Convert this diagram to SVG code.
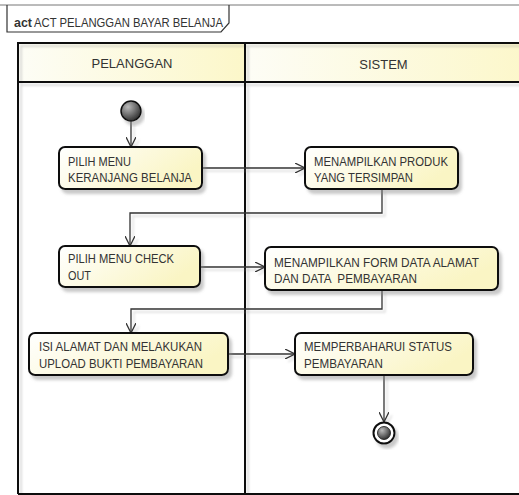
<svg xmlns="http://www.w3.org/2000/svg" width="519" height="495" viewBox="0 0 519 495">
  <defs>
    <style>
      text { font-family: "Liberation Sans", Arial, sans-serif; fill: #333; font-size: 13.5px; }
      .hdr { font-size: 13px; text-anchor: middle; }
      .lane { fill: none; stroke: #111; stroke-width: 2; }
      .act { stroke: #111; stroke-width: 2; }
      .flow { fill: none; stroke: #333; stroke-width: 1.3; }
    </style>
    <linearGradient id="nodeFill" x1="0" y1="0" x2="1" y2="0.4">
      <stop offset="0" stop-color="#ffffff"/>
      <stop offset="1" stop-color="#faf5c4"/>
    </linearGradient>
    <linearGradient id="hdrFill" x1="0" y1="0" x2="1" y2="0">
      <stop offset="0" stop-color="#fdfdf6"/>
      <stop offset="1" stop-color="#fcf7c9"/>
    </linearGradient>
    <radialGradient id="ballFill" cx="0.35" cy="0.3" r="0.8">
      <stop offset="0" stop-color="#bbbbbb"/>
      <stop offset="1" stop-color="#222222"/>
    </radialGradient>
    <filter id="shadow" x="-10%" y="-10%" width="130%" height="140%">
      <feDropShadow dx="3" dy="4" stdDeviation="1.5" flood-color="#888" flood-opacity="0.45"/>
    </filter>
    <filter id="lineShadow" x="-5%" y="-5%" width="110%" height="110%">
      <feDropShadow dx="3" dy="3" stdDeviation="0.8" flood-color="#999" flood-opacity="0.35"/>
    </filter>
    <marker id="open" viewBox="0 0 10 10" refX="10" refY="5" markerWidth="10" markerHeight="10" markerUnits="userSpaceOnUse" orient="auto">
      <path d="M0,0 L10,5 L0,10" fill="none" stroke="#333" stroke-width="1.3"/>
    </marker>
  </defs>

  <rect x="0" y="0" width="519" height="495" fill="#fff"/>

  <!-- diagram frame and name tab -->
  <g id="frame">
    <line x1="0" y1="5" x2="519" y2="5" stroke="#777" stroke-width="1"/>
    <path d="M7,5 V32 H221 L229,23 V5" fill="none" stroke="#333" stroke-width="1.2"/>
    <text x="14" y="26.5" font-size="13px" font-weight="bold" textLength="18" lengthAdjust="spacingAndGlyphs">act</text>
    <text x="34" y="26.5" font-size="13px" textLength="189" lengthAdjust="spacingAndGlyphs">ACT PELANGGAN BAYAR BELANJA</text>
  </g>

  <!-- swimlanes -->
  <g id="lanes">
    <rect x="18" y="43" width="227" height="39" fill="url(#hdrFill)"/>
    <rect x="245" y="43" width="290" height="39" fill="url(#hdrFill)"/>
    <g filter="url(#lineShadow)">
      <path class="lane" d="M18,494 V43 H540 M18,82 H540 M245,43 V494 M18,494 H540"/>
    </g>
    <text class="hdr" x="132" y="68">PELANGGAN</text>
    <text class="hdr" x="383.5" y="68.5">SISTEM</text>
  </g>

  <!-- connectors -->
  <g id="connectors" filter="url(#lineShadow)">
    <path class="flow" d="M131,121 V147" marker-end="url(#open)"/>
    <path class="flow" d="M202,168 H305" marker-end="url(#open)"/>
    <path class="flow" d="M382,189 V213 H130 V246" marker-end="url(#open)"/>
    <path class="flow" d="M200,267 H265" marker-end="url(#open)"/>
    <path class="flow" d="M382,290 V309 H131 V333" marker-end="url(#open)"/>
    <path class="flow" d="M228,354 H295" marker-end="url(#open)"/>
    <path class="flow" d="M384,375 V422" marker-end="url(#open)"/>
  </g>

  <!-- initial node -->
  <g id="start" filter="url(#shadow)">
    <circle cx="131" cy="111" r="10" fill="url(#ballFill)" stroke="#111" stroke-width="1.5"/>
  </g>

  <g id="pilihKeranjang">
    <rect class="act" x="59" y="147" width="143" height="42" rx="6" fill="url(#nodeFill)" filter="url(#shadow)"/>
    <text x="68" y="165.5" textLength="63" lengthAdjust="spacingAndGlyphs">PILIH MENU</text>
    <text x="68" y="181.7" textLength="124" lengthAdjust="spacingAndGlyphs">KERANJANG BELANJA</text>
  </g>

  <g id="tampilProduk">
    <rect class="act" x="305" y="147" width="153" height="42" rx="6" fill="url(#nodeFill)" filter="url(#shadow)"/>
    <text x="314" y="165.5" textLength="134" lengthAdjust="spacingAndGlyphs">MENAMPILKAN PRODUK</text>
    <text x="314" y="181.7" textLength="99" lengthAdjust="spacingAndGlyphs">YANG TERSIMPAN</text>
  </g>

  <g id="pilihCheckout">
    <rect class="act" x="59" y="246" width="141" height="41" rx="6" fill="url(#nodeFill)" filter="url(#shadow)"/>
    <text x="68" y="263.3" textLength="106" lengthAdjust="spacingAndGlyphs">PILIH MENU CHECK</text>
    <text x="68" y="280" textLength="23" lengthAdjust="spacingAndGlyphs">OUT</text>
  </g>

  <g id="tampilForm">
    <rect class="act" x="265" y="247" width="233" height="43" rx="6" fill="url(#nodeFill)" filter="url(#shadow)"/>
    <text x="274" y="266.7" textLength="205" lengthAdjust="spacingAndGlyphs">MENAMPILKAN FORM DATA ALAMAT</text>
    <text x="274" y="283.3" textLength="143" lengthAdjust="spacingAndGlyphs" style="white-space:pre">DAN DATA  PEMBAYARAN</text>
  </g>

  <g id="isiAlamat">
    <rect class="act" x="29" y="333" width="199" height="42" rx="6" fill="url(#nodeFill)" filter="url(#shadow)"/>
    <text x="39" y="351" textLength="163" lengthAdjust="spacingAndGlyphs">ISI ALAMAT DAN MELAKUKAN</text>
    <text x="39" y="367.7" textLength="164" lengthAdjust="spacingAndGlyphs">UPLOAD BUKTI PEMBAYARAN</text>
  </g>

  <g id="perbaruiStatus">
    <rect class="act" x="295" y="333" width="178" height="42" rx="6" fill="url(#nodeFill)" filter="url(#shadow)"/>
    <text x="304" y="351" textLength="148" lengthAdjust="spacingAndGlyphs">MEMPERBAHARUI STATUS</text>
    <text x="304" y="368.3" textLength="79" lengthAdjust="spacingAndGlyphs">PEMBAYARAN</text>
  </g>

  <!-- final node -->
  <g id="end" filter="url(#shadow)">
    <circle cx="384" cy="433" r="10.5" fill="#fff" stroke="#111" stroke-width="2"/>
    <circle cx="384" cy="433" r="6.5" fill="url(#ballFill)" stroke="#111" stroke-width="0.8"/>
  </g>
</svg>
